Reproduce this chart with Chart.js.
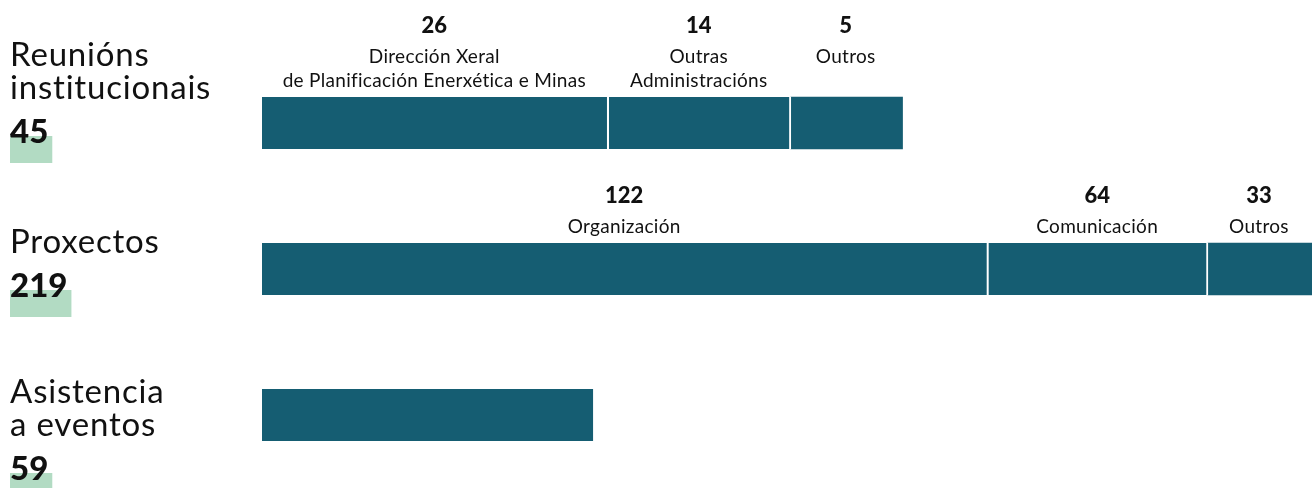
<!DOCTYPE html>
<html>
<head>
<meta charset="utf-8">
<script src="https://cdn.jsdelivr.net/npm/chart.js@4.4.1/dist/chart.umd.min.js"></script>
<style>
  html, body { margin: 0; padding: 0; background: #fff; }
  #wrap { width: 1312px; height: 488px; position: relative; }
</style>
</head>
<body>
<div id="wrap"><canvas id="chart" width="1312" height="488"></canvas></div>
<script>
// ---- data ----
const rowTitles = [['Reunións', 'institucionais'], ['Proxectos'], ['Asistencia', 'a eventos']];
const rowTotals = [45, 219, 59];
const segmentCounts = [[26, 14, 5], [122, 64, 33], [59]];
const segmentLabels = [
  [['Dirección Xeral', 'de Planificación Enerxética e Minas'], ['Outras', 'Administracións'], ['Outros']],
  [['Organización'], ['Comunicación'], ['Outros']],
  [null]
];
// drawn segment lengths as they appear in the graphic (not proportional to the counts),
// in units where the full Proxectos bar is 219
const segmentLengths = [[72.3, 38.0, 23.3], [151.5, 45.8, 21.7], [69.4]];

// ---- style ----
const BAR = '#155d72';
const TEXT = '#111111';
const HIGHLIGHT = '#b2dbc3';
const FONT = 'Lato, "Open Sans", sans-serif';
const numberBaselines = [143, 297, 480];   // left column totals

const nSeg = Math.max(...segmentLengths.map(r => r.length));
const datasets = [];
for (let k = 0; k < nSeg; k++) {
  datasets.push({
    data: segmentLengths.map(r => (r[k] === undefined ? null : r[k])),
    backgroundColor: BAR,
    borderColor: '#ffffff',
    borderWidth: { left: 0, right: k < nSeg - 1 ? 2 : 0, top: 0, bottom: 0 },
    borderSkipped: false,
    barThickness: 52,
  });
}

const labelsPlugin = {
  id: 'labels',
  afterDatasetsDraw(chart) {
    const ctx = chart.ctx;
    ctx.save();
    ctx.fillStyle = TEXT;
    ctx.textAlign = 'center';
    ctx.textBaseline = 'alphabetic';

    // labels above the segments
    segmentCounts.forEach((counts, r) => {
      const labels = segmentLabels[r];
      const maxLines = Math.max(...labels.map(l => (l ? l.length : 0)));
      counts.forEach((c, k) => {
        if (!labels[k]) return;
        const el = chart.getDatasetMeta(k).data[r];
        const p = el.getProps(['x', 'base', 'y', 'height'], true);
        const cx = (p.base + p.x - 2) / 2;
        const top = p.y - p.height / 2;
        const last = top - 10;
        const first = last - (maxLines - 1) * 24;
        ctx.font = '900 22px ' + FONT;
        ctx.fillText(String(c), cx, first - 30);
        ctx.font = '400 19px ' + FONT;
        ctx.letterSpacing = '0.3px';
        labels[k].forEach((line, i) => ctx.fillText(line, cx, first + i * 24));
        ctx.letterSpacing = '0px';
      });
    });

    // left column: titles and totals
    ctx.textAlign = 'left';
    rowTitles.forEach((lines, r) => {
      const nb = numberBaselines[r];
      ctx.font = '400 33px ' + FONT;
      ctx.letterSpacing = '0.8px';
      lines.forEach((line, i) => {
        ctx.fillText(line, 10, nb - 44 - (lines.length - 1 - i) * 33);
      });
      ctx.letterSpacing = '0px';
      ctx.font = '900 33px ' + FONT;
      const txt = String(rowTotals[r]);
      const w = ctx.measureText(txt).width;
      ctx.fillStyle = HIGHLIGHT;
      ctx.fillRect(10, nb - 7, w + 4, 27);
      ctx.fillStyle = TEXT;
      ctx.fillText(txt, 10, nb);
    });
    ctx.restore();
  }
};

new Chart(document.getElementById('chart'), {
  type: 'bar',
  data: { labels: rowTitles.map(t => t.join(' ')), datasets },
  options: {
    indexAxis: 'y',
    responsive: false,
    animation: false,
    layout: { padding: { left: 262, right: 0, top: 50, bottom: 0 } },
    scales: {
      x: { stacked: true, min: 0, max: 219, display: false },
      y: { stacked: true, display: false },
    },
    plugins: { legend: { display: false }, tooltip: { enabled: false } },
  },
  plugins: [labelsPlugin]
});
</script>
</body>
</html>
